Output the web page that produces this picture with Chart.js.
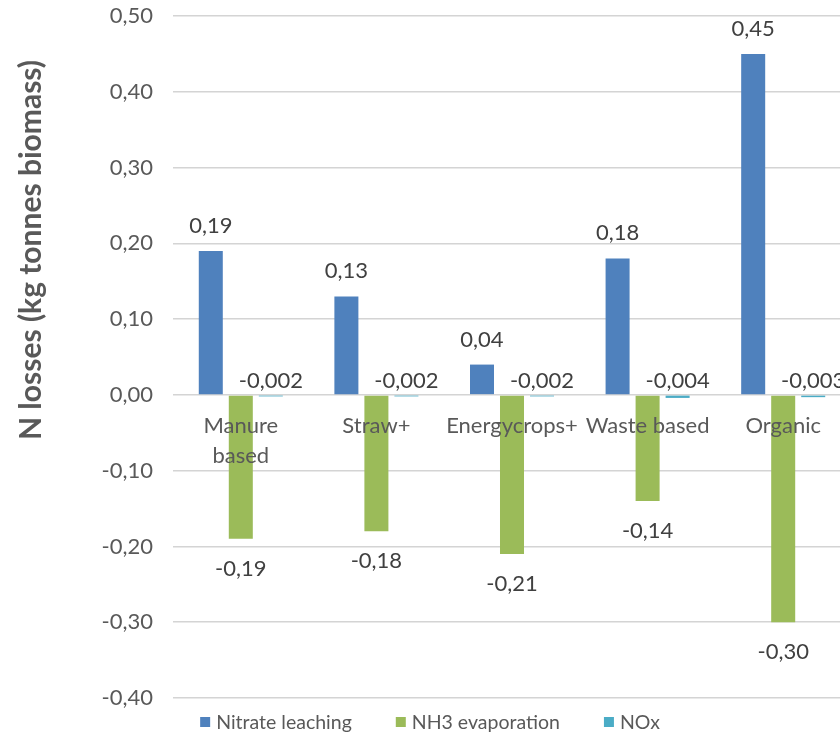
<!DOCTYPE html>
<html>
<head>
<meta charset="utf-8">
<title>N losses per biomass type</title>
<script src="https://cdn.jsdelivr.net/npm/chart.js@4/dist/chart.umd.min.js"></script>
<style>
  html, body { margin: 0; padding: 0; background: #ffffff; overflow: hidden; }
  #wrap { position: relative; width: 860px; height: 738px; }
</style>
</head>
<body>
<div id="wrap"><canvas id="chart" width="860" height="738"></canvas></div>
<script>
// Biomass categories on the x axis
const categories = [['Manure', 'based'], 'Straw+', 'Energycrops+', 'Waste based', 'Organic'];

// Series names and values (kg N per tonne biomass)
const seriesNames = ['Nitrate leaching', 'NH3 evaporation', 'NOx'];
const nitrateLeaching = [0.19, 0.13, 0.04, 0.18, 0.45];
const nh3Evaporation = [-0.19, -0.18, -0.21, -0.14, -0.30];
const noxLosses = [-0.002, -0.002, -0.002, -0.004, -0.003];

// Value axis range and tick step
const yMin = -0.40;
const yMax = 0.50;
const yStep = 0.10;
const yAxisTitle = 'N losses (kg tonnes biomass)';

// Number of decimals shown in each series' value labels
const labelDecimals = [2, 2, 3];

const seriesColors = ['#4F81BD', '#9BBB59', '#4BACC6'];
const FONT = 'Lato, "Open Sans", sans-serif';

function commaNumber(v, decimals) {
  return v.toFixed(decimals).replace('.', ',');
}

// Value labels above/below each bar
const valueLabels = {
  id: 'valueLabels',
  afterDatasetsDraw(chart) {
    const ctx = chart.ctx;
    const zero = chart.scales.y.getPixelForValue(0);
    ctx.save();
    ctx.font = '22px ' + FONT;
    ctx.fillStyle = '#404040';
    ctx.textAlign = 'center';
    ctx.textBaseline = 'alphabetic';
    chart.data.datasets.forEach((ds, di) => {
      const meta = chart.getDatasetMeta(di);
      meta.data.forEach((bar, i) => {
        const v = ds.data[i];
        const text = commaNumber(v, labelDecimals[di]);
        let y;
        if (di === 2) y = zero - 7;
        else if (v >= 0) y = bar.y - 18;
        else y = bar.y + 37;
        ctx.fillText(text, bar.x, y);
      });
    });
    ctx.restore();
  }
};

// Rotated value-axis title
const axisTitle = {
  id: 'axisTitle',
  afterDraw(chart) {
    const ctx = chart.ctx;
    ctx.save();
    ctx.translate(31, 250);
    ctx.rotate(-Math.PI / 2);
    ctx.font = 'bold 30px ' + FONT;
    ctx.fillStyle = '#595959';
    ctx.textAlign = 'center';
    ctx.textBaseline = 'middle';
    ctx.fillText(yAxisTitle, 0, 0);
    ctx.restore();
  }
};

// Legend row below the plot
const bottomLegend = {
  id: 'bottomLegend',
  afterDraw(chart) {
    const ctx = chart.ctx;
    const box = 10, gapText = 6, gapItem = 44;
    ctx.save();
    ctx.font = '19.5px ' + FONT;
    ctx.textBaseline = 'middle';
    ctx.textAlign = 'left';
    const items = chart.data.datasets.map(ds => ({
      text: ds.label, color: ds.backgroundColor, w: ctx.measureText(ds.label).width
    }));
    let total = 0;
    items.forEach((it, i) => { total += box + gapText + it.w + (i ? gapItem : 0); });
    let x = chart.width / 2 - total / 2;
    const y = 722;
    items.forEach(it => {
      ctx.fillStyle = it.color;
      ctx.fillRect(x, y - box / 2, box, box);
      ctx.fillStyle = '#595959';
      ctx.fillText(it.text, x + box + gapText, y + 1);
      x += box + gapText + it.w + gapItem;
    });
    ctx.restore();
  }
};

function build() {
  new Chart(document.getElementById('chart'), {
    type: 'bar',
    data: {
      labels: categories,
      datasets: [
        { label: seriesNames[0], data: nitrateLeaching, backgroundColor: seriesColors[0] },
        { label: seriesNames[1], data: nh3Evaporation, backgroundColor: seriesColors[1] },
        { label: seriesNames[2], data: noxLosses, backgroundColor: seriesColors[2] }
      ]
    },
    options: {
      responsive: false,
      animation: false,
      devicePixelRatio: 1,
      layout: { padding: { left: 0, right: 9, top: 16, bottom: 40 } },
      datasets: {
        bar: { categoryPercentage: 0.664, barPercentage: 0.8, borderWidth: 0 }
      },
      plugins: {
        legend: { display: false },
        tooltip: { enabled: false }
      },
      scales: {
        x: {
          position: { y: 0 },
          afterFit(scale) { scale.paddingTop = 0; scale.paddingBottom = 0; },
          grid: { display: false, drawTicks: false },
          border: { display: false },
          ticks: {
            z: 1,
            padding: 16,
            color: '#595959',
            font: { family: FONT, size: 22, lineHeight: 1.36 },
            maxRotation: 0,
            autoSkip: false
          }
        },
        y: {
          min: yMin,
          max: yMax,
          afterFit(scale) {
            scale.width = 173;
            scale.paddingTop = 0;
            scale.paddingBottom = 0;
          },
          grid: { color: '#d4d4d4', lineWidth: 1.5, drawTicks: false },
          border: { display: false },
          ticks: {
            stepSize: yStep,
            padding: 20,
            color: '#595959',
            font: { family: FONT, size: 22 },
            callback: v => commaNumber(v, 2)
          }
        }
      }
    },
    plugins: [valueLabels, axisTitle, bottomLegend]
  });
}

if (document.fonts && document.fonts.load) {
  Promise.all([
    document.fonts.load('22px Lato'),
    document.fonts.load('bold 30px Lato')
  ]).then(build, build);
} else {
  build();
}
</script>
</body>
</html>
